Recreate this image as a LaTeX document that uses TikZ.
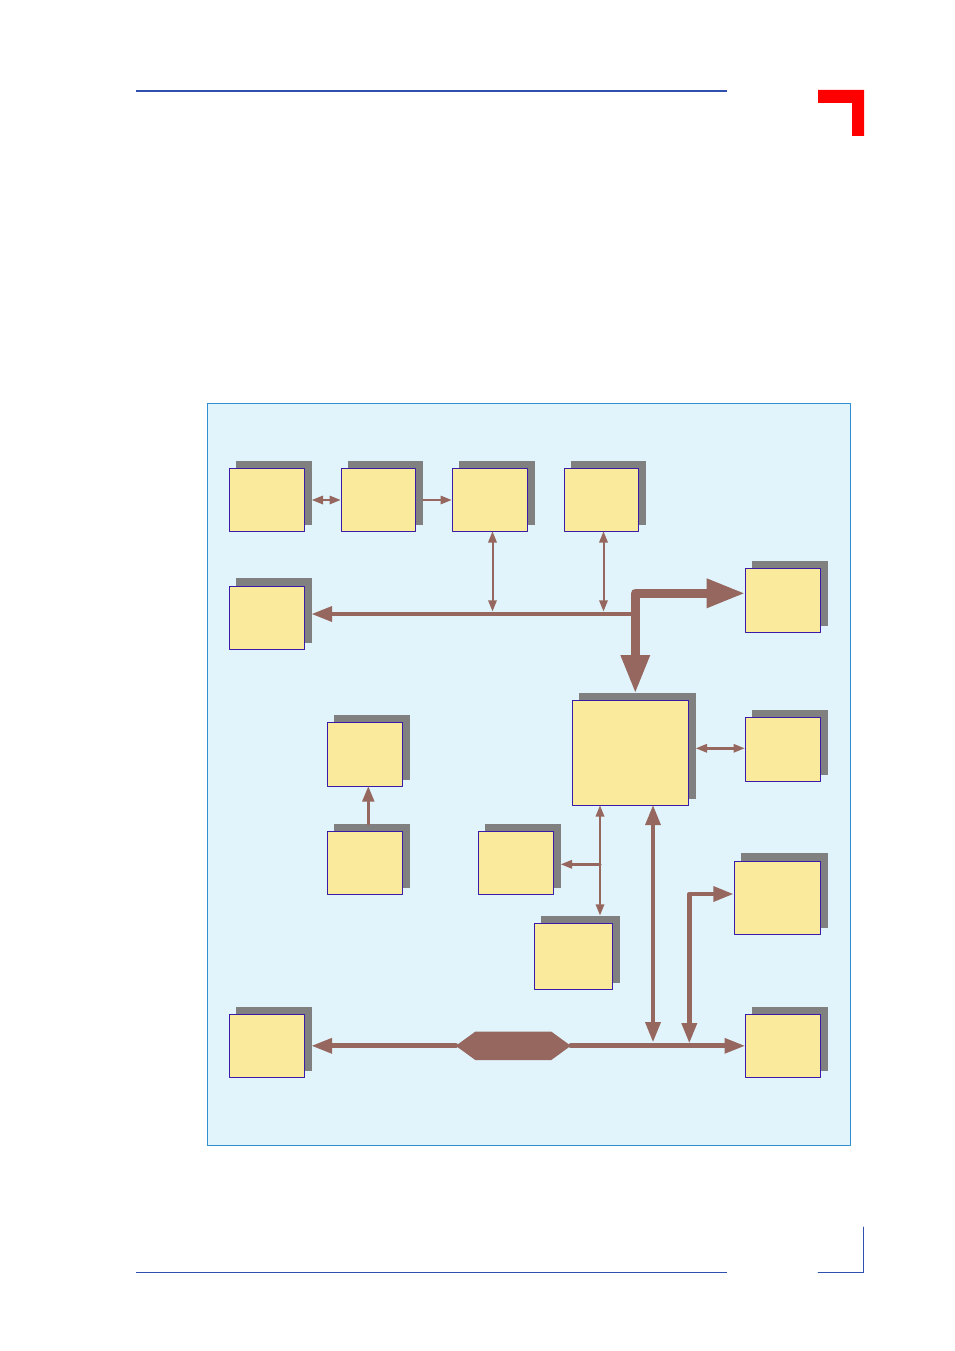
\documentclass[tikz,border=0pt]{standalone}
\usetikzlibrary{arrows.meta}
\definecolor{panelblue}{HTML}{E1F4FC}
\definecolor{panelline}{HTML}{2F8FD0}
\definecolor{boxyellow}{HTML}{FAEB9C}
\definecolor{boxline}{HTML}{3A1AA8}
\definecolor{busbrown}{HTML}{96675F}
\definecolor{ruleblue}{HTML}{3050B0}
\begin{document}
\begin{tikzpicture}[x=1pt, y=-1pt, line cap=round, line join=round,
    box/.style={rectangle, draw=boxline, fill=boxyellow, line width=1pt, inner sep=0, outer sep=0},
    boxshadow/.style={rectangle, fill=gray, inner sep=0, outer sep=0},
    bridge/.style={rectangle, inner sep=0, outer sep=0, minimum width=115pt, minimum height=28.4pt},
    wire/.style={draw=busbrown, line width=2pt, >={Triangle[length=11pt, width=9pt, line width=0pt]}},
    bus/.style={draw=busbrown, line width=4pt, >={Triangle[length=19.5pt, width=16pt, line width=0pt]}},
    trunk/.style={draw=busbrown, line width=9.5pt, >={Triangle[length=37pt, width=30pt, line width=0pt]}}]
	\useasboundingbox (0, 0) rectangle (954, 1351);
	% Page furniture
	\draw [ruleblue, line width=1.2pt, line cap=butt] (136, 91) -- (727, 91);
	\fill [red] (818, 90) -- (864, 90) -- (864, 136) -- (852, 136) -- (852, 103) -- (818, 103) -- cycle;
	\draw [ruleblue, line width=0.8pt, line cap=butt] (136, 1272.5) -- (727, 1272.5);
	\draw [ruleblue, line width=0.8pt, line join=miter] (818, 1272.5) -- (863.5, 1272.5) -- (863.5, 1227);
	% Panel
	\draw [draw=panelline, fill=panelblue, line width=0.8pt] (207.5, 403.5) rectangle (850.5, 1145.5);
	% Boxes with their shadows
	\foreach \name/\x/\y/\w/\h/\s in {1-1/267/500/75/63/0, 1-2/378.5/500/74/63/0, 1-3/490/500/75/63/0, 1-4/601.5/500/74/63/0,
	    2-1/267/618/75/63/1, 2-2/783/600.5/75/64/0, main/630.5/753/116/105/0, 3-1/783/749.5/75/64/0,
	    4-1/365/754.5/75/64/0, 5-1/365/863/75/63/0, 5-2/516/863/75/63/0, 5-3/777.5/898/86/73/1,
	    6-1/573.5/956.5/78/66/0, 7-1/267/1046/75/63/0, 7-2/783/1046/75/63/0} {
	  \node [boxshadow, minimum width=\w+1, minimum height=\h+1+\s] (shadow-\name) at (\x+7, \y-7-\s/2) {};
	  \node [box, minimum width=\w, minimum height=\h] (box-\name) at (\x, \y) {};
	}
	\node [bridge] (bridge-1) at (513.3, 1045.8) {};
	\fill [busbrown] (bridge-1.west) -- ([xshift=19.5]bridge-1.north west) -- ([xshift=-19.5]bridge-1.north east) -- (bridge-1.east)
	  -- ([xshift=-19.5]bridge-1.south east) -- ([xshift=19.5]bridge-1.south west) -- cycle;
	% Junctions on the buses
	\coordinate (tap-1) at (492.5, 611.3);
	\coordinate (tap-2) at (603.5, 611.3);
	\coordinate (tap-3) at (653, 1041.7);
	\coordinate (tap-4) at (689.3, 1042.7);
	\coordinate (tap-5) at (600, 915.3);
	\coordinate (tap-6) at (368.3, 824);
	\coordinate (branch-1) at (600, 864.3);
	\coordinate (branch-2) at (696, 748.3);
	\coordinate (corner-1) at (635.3, 593.3);
	\coordinate (corner-2) at (689.3, 894);
	\coordinate (bend-1) at (635.3, 614);
	% First row arrows
	\draw [wire, line width=2.5pt, <->, shorten >=1pt] (shadow-1-1.east |- box-1-1.east) -- (box-1-2.west);
	\draw [wire, ->, shorten >=1pt] (shadow-1-2.east |- box-1-2.east) -- (box-1-3.west);
	% Taps from the upper bus
	\foreach \a/\b in {1/1-3, 2/1-4}
	  \draw [wire, <->] (tap-\a) -- (tap-\a |- box-\b.south);
	\draw [wire, line width=3.7pt, >={Triangle[length=20pt, width=16pt, line width=0pt]}, ->] (bend-1) -- (bend-1 -| shadow-2-1.east);
	\draw [trunk, <->, shorten <=1.8pt, shorten >=1pt] (corner-1 -| box-2-2.west) -- (corner-1) -- (corner-1 |- shadow-main.north);
	% Arrows round the main box
	\draw [wire, line width=3pt, <->, shorten >=1pt] (branch-2) -- (branch-2 -| box-3-1.west);
	\draw [wire, line width=2.3pt, <->] (tap-5) -- (tap-5 |- box-main.south);
	\draw [wire, line width=3pt, ->] (branch-1) -- (branch-1 -| shadow-5-2.east);
	\draw [wire, line width=3pt, >={Triangle[length=15pt, width=12.5pt, line width=0pt]}, ->] (tap-6 |- shadow-5-1.north) -- (tap-6 |- box-4-1.south);
	% Lower bus
	\draw [bus, <->] (tap-3) -- (tap-3 |- box-main.south);
	\draw [bus, line width=4.5pt, <->, shorten >=1.6pt] (tap-4) -- (corner-2) -- (corner-2 -| box-5-3.west);
	\draw [bus, line width=5pt, ->, >={Triangle[length=20pt, width=16pt, line width=0pt]}] (bridge-1) -- (bridge-1 -| shadow-7-1.east);
	\draw [bus, line width=5pt, ->, >={Triangle[length=20pt, width=16pt, line width=0pt]}, shorten >=1pt] (bridge-1) -- (bridge-1 -| box-7-2.west);
\end{tikzpicture}
\end{document}
